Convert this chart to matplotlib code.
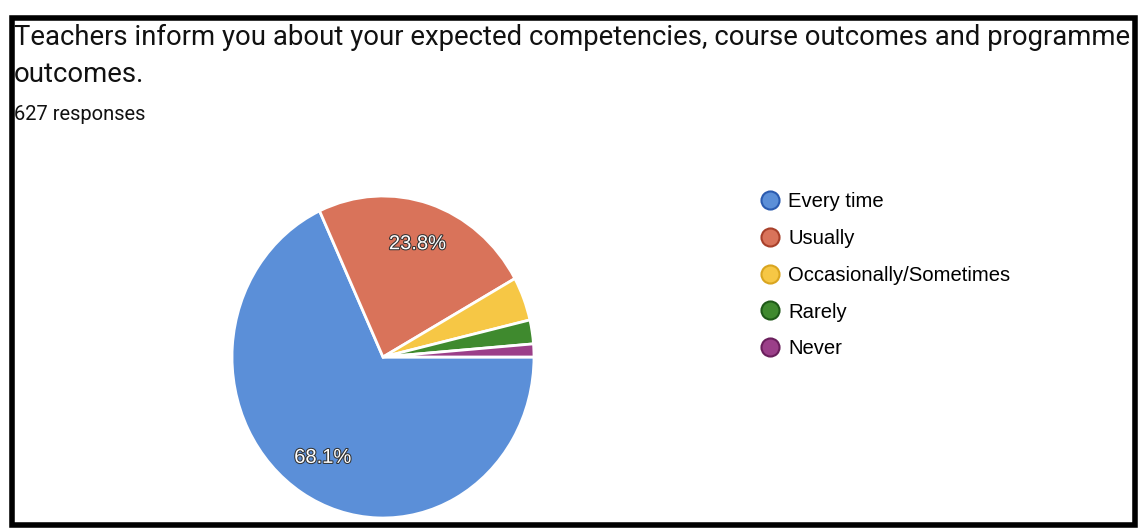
import matplotlib
matplotlib.use("Agg")
import matplotlib.pyplot as plt
from matplotlib.lines import Line2D
from matplotlib.patches import Rectangle
import matplotlib.patheffects as pe

title_lines = ["Teachers inform you about your expected competencies, course outcomes and programme",
               "outcomes."]
subtitle = "627 responses"
categories = ["Every time", "Usually", "Occasionally/Sometimes", "Rarely", "Never"]
values = [68.1, 23.8, 4.4, 2.4, 1.3]
colors = ["#5b8fd8", "#d9735a", "#f6c745", "#3f8a2e", "#9b3f89"]
edge_colors = ["#2a5bb0", "#a8402a", "#d9a520", "#1f5a18", "#6a1f5c"]

W, H = 1141, 532
fig = plt.figure(figsize=(W / 100, H / 100), dpi=100)
fig.patch.set_facecolor("white")

def fx(x):
    return x / W

def fy(y):
    return 1 - y / H

# Title
t1 = fig.text(fx(14), fy(45), title_lines[0], fontsize=20, family="Roboto",
              color="#111111", va="baseline", ha="left")
fig.canvas.draw()
r = fig.canvas.get_renderer()
w = t1.get_window_extent(r).width
fs_title = 20 * 1113 / w
t1.set_fontsize(fs_title)
fig.text(fx(14), fy(82), title_lines[1], fontsize=fs_title, family="Roboto",
         color="#111111", va="baseline", ha="left")
fig.text(fx(14), fy(120), subtitle, fontsize=14.5, family="Roboto",
         color="#111111", va="baseline", ha="left")

# Pie
cx, cy, rx, ry = 383, 357, 151, 161
ax = fig.add_axes([fx(cx - rx), fy(cy + ry), 2 * rx / W, 2 * ry / H])

def pct(p):
    return f"{p:.1f}%" if p > 5 else ""

wedges, texts, autotexts = ax.pie(values, colors=colors, startangle=0, counterclock=False,
                                  radius=1, autopct=pct, pctdistance=0.74,
                                  wedgeprops=dict(edgecolor="white", linewidth=2),
                                  textprops=dict(color="white", fontsize=14.5, family="Liberation Sans"))
for t in autotexts:
    t.set_path_effects([pe.withStroke(linewidth=1.5, foreground="#333333")])
ax.set_xlim(-1, 1)
ax.set_ylim(-1, 1)
ax.set_aspect("auto")
ax.axis("off")

# Legend
handles = [Line2D([], [], marker="o", linestyle="none", markersize=13,
                  markerfacecolor=c, markeredgecolor=ec, markeredgewidth=1.5)
           for c, ec in zip(colors, edge_colors)]
fig.legend(handles, categories, loc="upper left", bbox_to_anchor=(fx(758), fy(192)),
           frameon=False, labelspacing=0.88, handletextpad=0.3,
           handlelength=1.2, borderpad=0, borderaxespad=0,
           prop=dict(family="Liberation Sans", size=14.6))

# Scan border
fig.add_artist(Rectangle((fx(12), fy(525)), fx(1135 - 12), (525 - 18) / H,
                         transform=fig.transFigure, fill=False, edgecolor="black",
                         linewidth=4))

fig.savefig("out.png", dpi=100)
